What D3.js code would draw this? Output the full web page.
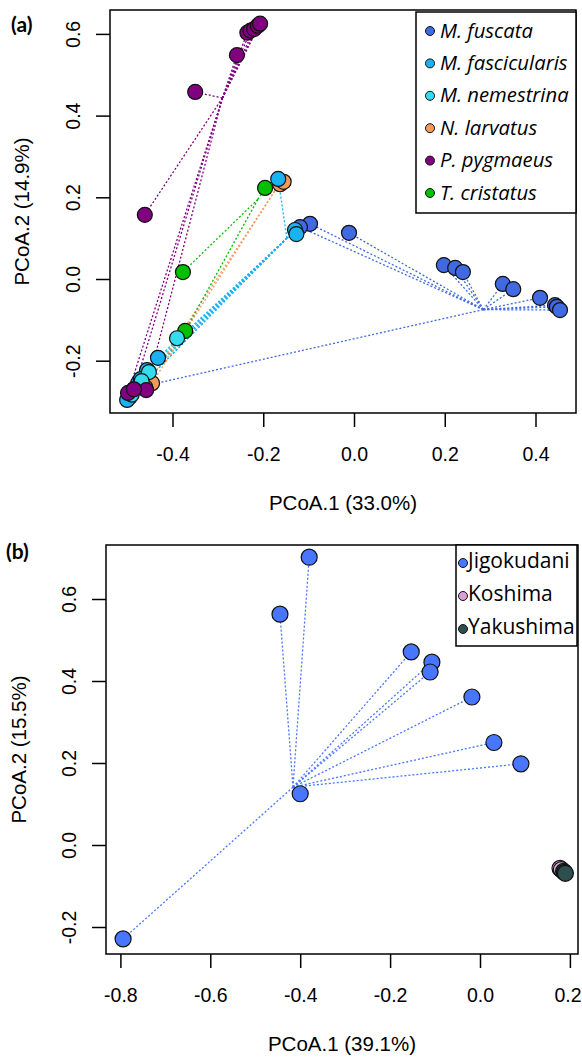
<!DOCTYPE html>
<html>
<head>
<meta charset="utf-8">
<script src="https://cdn.jsdelivr.net/npm/d3@7"></script>
<style>
  html, body { margin: 0; padding: 0; background: #fff; }
  svg { display: block; }
</style>
</head>
<body>
<svg id="chart" width="582" height="1057"></svg>
<script>
// ---------------- Panel (a) data ----------------
const speciesA = ["M. fuscata", "M. fascicularis", "M. nemestrina", "N. larvatus", "P. pygmaeus", "T. cristatus"];
const coloursA = ["#4169E1", "#1AB2F0", "#35DCEE", "#F29A5C", "#800080", "#00C000"];
// sample coordinates: PCoA.1, PCoA.2, species index
const pcoa1A = [
  -0.097, -0.119, -0.011, 0.198, 0.223, 0.240, 0.328, 0.351, 0.410, 0.443, 0.447, 0.454, -0.462,
  -0.167, -0.130, -0.127, -0.432, -0.456, -0.476, -0.494, -0.500, -0.485, -0.470,
  -0.390, -0.452, -0.468, -0.490,
  -0.163, -0.155, -0.445, -0.460,
  -0.461, -0.350, -0.258, -0.235, -0.228, -0.220, -0.212, -0.207, -0.498, -0.458, -0.485,
  -0.377, -0.372, -0.196
];
const pcoa2A = [
  0.135, 0.127, 0.113, 0.034, 0.027, 0.017, -0.012, -0.025, -0.046, -0.064, -0.068, -0.076, -0.262,
  0.245, 0.120, 0.110, -0.193, -0.223, -0.255, -0.289, -0.296, -0.270, -0.245,
  -0.145, -0.228, -0.250, -0.283,
  0.232, 0.238, -0.255, -0.265,
  0.157, 0.458, 0.548, 0.603, 0.608, 0.612, 0.620, 0.625, -0.279, -0.272, -0.270,
  0.017, -0.127, 0.223
];
const groupA = [
  0,0,0,0,0,0,0,0,0,0,0,0,0,
  1,1,1,1,1,1,1,1,1,1,
  2,2,2,2,
  3,3,3,3,
  4,4,4,4,4,4,4,4,4,4,4,
  5,5,5
];
// group medians (spider centres)
const centre1A = [0.285, -0.148, -0.450, -0.175, -0.290, -0.212];
const centre2A = [-0.075, 0.100, -0.220, 0.215, 0.443, 0.195];
const drawOrderA = [0, 3, 5, 1, 2, 4];
const xTicksA = [-0.4, -0.2, 0.0, 0.2, 0.4];
const yTicksA = [-0.2, 0.0, 0.2, 0.4, 0.6];

// ---------------- Panel (b) data ----------------
const sitesB = ["Jigokudani", "Koshima", "Yakushima"];
const coloursB = ["#4876FF", "#D8A0D8", "#2F4F4F"];
const pcoa1B = [-0.794, -0.400, -0.445, -0.380, -0.153, -0.107, -0.111, -0.018, 0.031, 0.091,
                0.178, 0.181, 0.186, 0.188, 0.190];
const pcoa2B = [-0.229, 0.125, 0.563, 0.702, 0.471, 0.446, 0.422, 0.361, 0.250, 0.198,
                -0.057, -0.060, -0.064, -0.067, -0.069];
const groupB = [0,0,0,0,0,0,0,0,0,0, 1,1, 2,2,2];
const centre1B = [-0.416, 0.179, 0.188];
const centre2B = [0.141, -0.058, -0.067];
const drawOrderB = [0, 1, 2];
const xTicksB = [-0.8, -0.6, -0.4, -0.2, 0.0, 0.2];
const yTicksB = [-0.2, 0.0, 0.2, 0.4, 0.6];

const svg = d3.select("#chart");
const fmt1 = d3.format(".1f");
const fmt = d => fmt1(d).replace("\u2212", "-");
const AXIS_FONT = "'Liberation Sans', Arial, sans-serif";
const W = 582;

function drawPanel(cfg) {
  const x = d3.scaleLinear().domain(cfg.xDomain).range([cfg.left, cfg.right]);
  const y = d3.scaleLinear().domain(cfg.yDomain).range([cfg.bottom, cfg.top]);
  const g = svg.append("g");

  // spider lines
  const n = cfg.p1.length;
  for (let i = 0; i < n; i++) {
    const k = cfg.grp[i];
    g.append("line")
      .attr("x1", x(cfg.c1[k])).attr("y1", y(cfg.c2[k]))
      .attr("x2", x(cfg.p1[i])).attr("y2", y(cfg.p2[i]))
      .attr("stroke", cfg.colours[k])
      .attr("stroke-width", 1.3)
      .attr("stroke-dasharray", "2,2");
  }
  // points by group order
  cfg.order.forEach(k => {
    for (let i = 0; i < n; i++) {
      if (cfg.grp[i] !== k) continue;
      g.append("circle")
        .attr("cx", x(cfg.p1[i])).attr("cy", y(cfg.p2[i]))
        .attr("r", cfg.r)
        .attr("fill", cfg.colours[k])
        .attr("stroke", "#111").attr("stroke-width", 1.2);
    }
  });

  // box
  g.append("rect")
    .attr("x", cfg.left).attr("y", cfg.top)
    .attr("width", cfg.right - cfg.left).attr("height", cfg.bottom - cfg.top)
    .attr("fill", "none").attr("stroke", "#000").attr("stroke-width", 1.5);

  // x axis
  const xa = g.append("g").attr("transform", `translate(0,${cfg.bottom})`)
    .call(d3.axisBottom(x).tickValues(cfg.xTicks).tickFormat(fmt).tickSize(14).tickSizeOuter(0));
  xa.select(".domain").remove();
  xa.selectAll(".tick line").attr("stroke", "#000").attr("stroke-width", 1.5);
  xa.selectAll(".tick text").attr("y", 48).attr("dy", 0)
    .attr("font-family", AXIS_FONT).attr("font-size", 19.5).attr("fill", "#000")
    .each(function(d) {
      // keep labels inside the page edge
      const half = this.getComputedTextLength() / 2;
      const over = x(d) + half - (W - 1);
      if (over > 0) d3.select(this).attr("dx", -over);
    });

  // y axis
  const ya = g.append("g").attr("transform", `translate(${cfg.left},0)`)
    .call(d3.axisLeft(y).tickValues(cfg.yTicks).tickFormat(fmt).tickSize(14).tickSizeOuter(0));
  ya.select(".domain").remove();
  ya.selectAll(".tick line").attr("stroke", "#000").attr("stroke-width", 1.5);
  ya.selectAll(".tick text")
    .attr("x", 0).attr("y", cfg.yTickBase - cfg.left).attr("dy", 0)
    .attr("text-anchor", "middle")
    .attr("transform", "rotate(-90)")
    .attr("font-family", AXIS_FONT).attr("font-size", 19.5).attr("fill", "#000");

  // axis titles
  g.append("text")
    .attr("x", (cfg.left + cfg.right) / 2).attr("y", cfg.bottom + 97)
    .attr("text-anchor", "middle")
    .attr("font-family", AXIS_FONT).attr("font-size", 20.5)
    .text(cfg.xTitle);
  g.append("text")
    .attr("transform", `translate(${cfg.yTitleBase},${(cfg.top + cfg.bottom) / 2}) rotate(-90)`)
    .attr("text-anchor", "middle")
    .attr("font-family", AXIS_FONT).attr("font-size", 20.5)
    .text(cfg.yTitle);

  // panel letter
  g.append("text")
    .attr("x", cfg.letterX).attr("y", cfg.letterY)
    .attr("font-family", "Lato, 'Open Sans', sans-serif").attr("font-weight", "bold")
    .attr("font-size", 21)
    .text(cfg.letter);

  // legend
  const L = cfg.legend;
  g.append("rect")
    .attr("x", L.x0).attr("y", L.y0).attr("width", L.x1 - L.x0).attr("height", L.y1 - L.y0)
    .attr("fill", "#fff").attr("stroke", "#000").attr("stroke-width", 1.5);
  cfg.names.forEach((name, i) => {
    const cy = L.firstY + i * L.step;
    g.append("circle")
      .attr("cx", L.dotX).attr("cy", cy + L.dotDy).attr("r", 4.5)
      .attr("fill", cfg.colours[i]).attr("stroke", "#111").attr("stroke-width", 1);
    g.append("text")
      .attr("x", L.textX).attr("y", cy + 6.5)
      .attr("font-family", "'Open Sans', Lato, sans-serif")
      .attr("font-style", L.italic ? "italic" : "normal")
      .attr("font-size", L.fontSize)
      .text(name);
  });
}

drawPanel({
  left: 110, right: 576, top: 10, bottom: 413,
  xDomain: [(110 - 354) / 453.75, (576 - 354) / 453.75],
  yDomain: [(279 - 413) / 408.5, (279 - 10) / 408.5],
  p1: pcoa1A, p2: pcoa2A, grp: groupA, c1: centre1A, c2: centre2A,
  colours: coloursA, order: drawOrderA, r: 7.5,
  xTicks: xTicksA, yTicks: yTicksA, yTickBase: 80, yTitleBase: 29,
  xTitle: "PCoA.1 (33.0%)", yTitle: "PCoA.2 (14.9%)",
  letter: "(a)", letterX: 11, letterY: 32,
  names: speciesA,
  legend: { x0: 416, x1: 576, y0: 12, y1: 213, firstY: 31, step: 32.4, dotX: 430, dotDy: 0,
            textX: 440, fontSize: 20.3, italic: true }
});

drawPanel({
  left: 106, right: 578, top: 545, bottom: 954,
  xDomain: [(106 - 480) / 449.5, (578 - 480) / 449.5],
  yDomain: [(845 - 954) / 410, (845 - 545) / 410],
  p1: pcoa1B, p2: pcoa2B, grp: groupB, c1: centre1B, c2: centre2B,
  colours: coloursB, order: drawOrderB, r: 8,
  xTicks: xTicksB, yTicks: yTicksB, yTickBase: 76, yTitleBase: 26,
  xTitle: "PCoA.1 (39.1%)", yTitle: "PCoA.2 (15.5%)",
  letter: "(b)", letterX: 6, letterY: 559,
  names: sitesB,
  legend: { x0: 456, x1: 577, y0: 545, y1: 646, firstY: 561, step: 33, dotX: 463, dotDy: 2,
            textX: 468, fontSize: 21, italic: false }
});
</script>
</body>
</html>
